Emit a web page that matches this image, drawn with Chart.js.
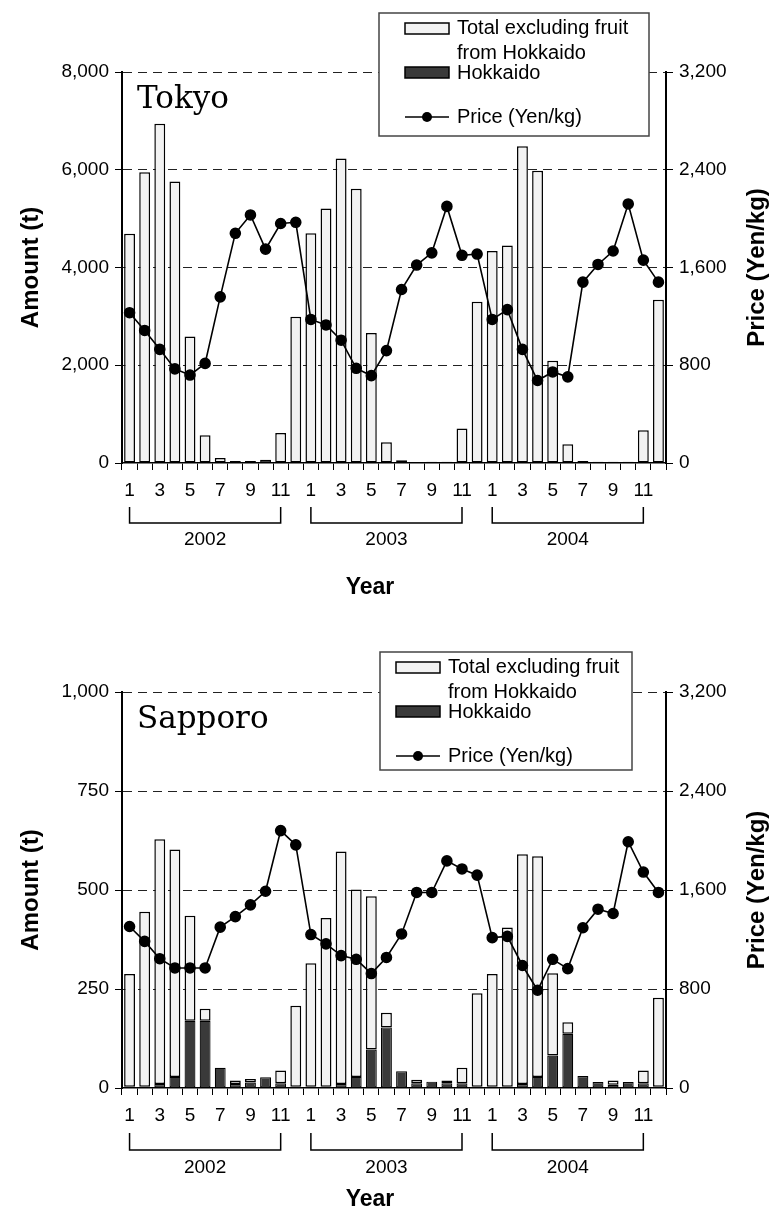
<!DOCTYPE html>
<html>
<head>
<meta charset="utf-8">
<script src="https://cdn.jsdelivr.net/npm/chart.js@4"></script>
<style>
  html, body { margin: 0; padding: 0; background: #fff; }
  canvas { display: block; }
</style>
</head>
<body>
<canvas id="tokyoChart" width="780" height="610"></canvas>
<canvas id="sapporoChart" width="780" height="610"></canvas>
<script>
// month labels, Jan 2002 .. Dec 2004
const MONTHS = [
  '1','2','3','4','5','6','7','8','9','10','11','12',
  '1','2','3','4','5','6','7','8','9','10','11','12',
  '1','2','3','4','5','6','7','8','9','10','11','12'
];
const YEARS = ['2002', '2003', '2004'];

// Tokyo (t, Yen/kg)
const tokyoOther = [
  4690, 5950, 6940, 5760, 2590, 570, 100, 40, 40, 0, 615, 2990,
  4700, 5205, 6230, 5610, 2660, 425, 55, 5, 27, 27, 705, 3300,
  4340, 4450, 6480, 5980, 2090, 385, 40, 27, 27, 27, 670, 3340
];
const tokyoHokkaido = [
  0, 0, 0, 0, 0, 0, 0, 0, 0, 65, 0, 0,
  0, 0, 0, 0, 0, 0, 0, 0, 0, 0, 0, 0,
  0, 0, 0, 0, 0, 0, 0, 0, 0, 0, 0, 0
];
const tokyoPrice = [
  1230, 1085, 930, 770, 720, 815, 1360, 1880, 2030, 1750, 1960, 1970,
  1175, 1130, 1005, 775, 715, 920, 1420, 1620, 1720, 2100, 1700, 1710,
  1175, 1255, 930, 675, 745, 705, 1480, 1625, 1735, 2120, 1660, 1480
];

// Sapporo (t, Yen/kg)
const sapporoOther = [
  285, 442, 618, 574, 265, 30, 0, 9, 9, 0, 32, 205,
  312, 426, 587, 473, 387, 37, 0, 9, 0, 7, 39, 236,
  285, 402, 580, 557, 208, 29, 0, 0, 11, 0, 32, 225
];
const sapporoHokkaido = [
  3, 3, 10, 28, 170, 170, 51, 10, 14, 27, 12, 3,
  3, 3, 10, 28, 97, 153, 42, 12, 16, 12, 12, 3,
  3, 3, 10, 28, 82, 137, 30, 15, 8, 15, 12, 3
];
const sapporoPrice = [
  1305, 1185, 1045, 970, 970, 970, 1300, 1385, 1480, 1590, 2080, 1965,
  1240, 1165, 1070, 1040, 925, 1055, 1245, 1580, 1580, 1835, 1770, 1720,
  1215, 1225, 990, 790, 1040, 965, 1295, 1445, 1410, 1990, 1745, 1580
];

const SANS = "'Liberation Sans', Arial, sans-serif";
Chart.defaults.font.family = SANS;
Chart.defaults.color = '#000';

// city name, legend box, year brackets and the right/bottom titles
function figurePlugin(cfg) {
  return {
    id: 'figure' + cfg.name,
    afterDraw(chart) {
      const { ctx, chartArea, scales } = chart;
      const xs = scales.x;
      ctx.save();
      ctx.fillStyle = '#000';
      ctx.strokeStyle = '#000';

      // city name
      ctx.font = '31px "DejaVu Serif", serif';
      ctx.textAlign = 'left';
      ctx.textBaseline = 'alphabetic';
      ctx.fillText(cfg.name, chartArea.left + 15, chartArea.top + 36);

      // legend
      const lg = cfg.legend;
      ctx.fillStyle = '#fff';
      ctx.fillRect(lg.x, lg.y, lg.w, lg.h);
      ctx.lineWidth = 1.5;
      ctx.strokeStyle = '#444';
      ctx.strokeRect(lg.x, lg.y, lg.w, lg.h);

      const sx = lg.x + lg.pad, sw = 44, tx = sx + sw + 8;
      const ds = chart.data.datasets;
      ctx.strokeStyle = '#000';
      ctx.fillStyle = ds[2].backgroundColor;
      ctx.fillRect(sx, lg.y + 10, sw, 11);
      ctx.strokeRect(sx, lg.y + 10, sw, 11);
      ctx.fillStyle = ds[1].backgroundColor;
      ctx.fillRect(sx, lg.y + 54, sw, 11);
      ctx.strokeRect(sx, lg.y + 54, sw, 11);

      ctx.beginPath();
      ctx.moveTo(sx, lg.y + 104);
      ctx.lineTo(sx + sw, lg.y + 104);
      ctx.stroke();
      ctx.fillStyle = '#000';
      ctx.beginPath();
      ctx.arc(sx + sw / 2, lg.y + 104, 5, 0, Math.PI * 2);
      ctx.fill();

      ctx.font = '20px ' + SANS;
      ctx.textBaseline = 'middle';
      const l1 = ds[2].label.split('\n');
      ctx.fillText(l1[0], tx, lg.y + 15);
      ctx.fillText(l1[1], tx, lg.y + 40);
      ctx.fillText(ds[1].label, tx, lg.y + 60);
      ctx.fillText(ds[0].label, tx, lg.y + 104);

      // year brackets under the month labels
      const b = chartArea.bottom;
      ctx.lineWidth = 1.5;
      ctx.textAlign = 'center';
      ctx.font = '19px ' + SANS;
      YEARS.forEach((yr, k) => {
        const x1 = xs.getPixelForValue(k * 12);
        const x2 = xs.getPixelForValue(k * 12 + 10);
        ctx.beginPath();
        ctx.moveTo(x1, b + cfg.brTop);
        ctx.lineTo(x1, b + cfg.brBot);
        ctx.lineTo(x2, b + cfg.brBot);
        ctx.lineTo(x2, b + cfg.brTop);
        ctx.stroke();
        ctx.fillText(yr, (x1 + x2) / 2, b + cfg.yearY);
      });

      // x title
      ctx.font = 'bold 23px ' + SANS;
      ctx.fillText('Year', 370, chart.height - cfg.titleBottom);

      // right axis title, reads bottom to top
      ctx.translate(757, (chartArea.top + chartArea.bottom) / 2);
      ctx.rotate(-Math.PI / 2);
      ctx.font = 'bold 24px ' + SANS;
      ctx.fillText('Price (Yen/kg)', 0, 0);
      ctx.restore();
    }
  };
}

function buildChart(id, cfg) {
  const ctx = document.getElementById(id);
  new Chart(ctx, {
    type: 'bar',
    data: {
      labels: MONTHS,
      datasets: [
        {
          type: 'line',
          label: 'Price (Yen/kg)',
          data: cfg.price,
          yAxisID: 'y2',
          order: 0,
          borderColor: '#000',
          borderWidth: 1.6,
          pointRadius: 5,
          pointBackgroundColor: '#000',
          pointBorderColor: '#000',
          tension: 0,
        },
        {
          label: 'Hokkaido',
          data: cfg.hokkaido,
          yAxisID: 'y',
          stack: 'amt',
          order: 1,
          backgroundColor: '#3a3a3a',
          borderColor: '#000',
          borderWidth: 1.2,
          borderSkipped: false,
          barPercentage: 0.72,
          categoryPercentage: 1,
        },
        {
          label: 'Total excluding fruit\nfrom Hokkaido',
          data: cfg.other,
          yAxisID: 'y',
          stack: 'amt',
          order: 1,
          backgroundColor: '#f2f2f2',
          borderColor: '#000',
          borderWidth: 1.5,
          borderSkipped: false,
          barPercentage: 0.72,
          categoryPercentage: 1,
        }
      ]
    },
    plugins: [figurePlugin(cfg)],
    options: {
      responsive: false,
      animation: false,
      layout: { padding: { top: cfg.top, left: 0, right: 0, bottom: 0 } },
      plugins: {
        legend: { display: false },
        tooltip: { enabled: false }
      },
      scales: {
        x: {
          stacked: true,
          grid: { drawOnChartArea: false, offset: true, tickLength: 7, tickColor: '#000', tickWidth: 1 },
          border: { color: '#000', width: 1.5 },
          ticks: {
            autoSkip: false, maxRotation: 0, minRotation: 0, padding: 9,
            font: { size: 19 }, color: '#000',
            callback: (v, i) => (i % 2 === 0 ? MONTHS[i] : '')
          },
          afterFit: s => { s.height = cfg.xHeight; }
        },
        y: {
          stacked: true,
          min: 0,
          max: cfg.amountMax,
          ticks: { stepSize: cfg.amountStep, padding: 6, font: { size: 19 }, color: '#000' },
          grid: {
            color: c => (c.tick && c.tick.value === 0 ? 'rgba(0,0,0,0)' : '#222'),
            lineWidth: 1,
            tickColor: '#000',
            tickLength: 7,
            tickBorderDash: [],
          },
          border: { color: '#000', width: 2, dash: [9, 6] },
          title: {
            display: true, text: 'Amount (t)', color: '#000',
            font: { size: 24, weight: 'bold' }, padding: { top: 17 }
          },
          afterFit: s => { s.width = 122; }
        },
        y2: {
          position: 'right',
          min: 0,
          max: 3200,
          ticks: { stepSize: 800, padding: 6, font: { size: 19 }, color: '#000' },
          grid: { drawOnChartArea: false, tickColor: '#000', tickLength: 7 },
          border: { color: '#000', width: 2 },
          afterFit: s => { s.width = 114; }
        }
      }
    }
  });
}

buildChart('tokyoChart', {
  name: 'Tokyo',
  other: tokyoOther,
  hokkaido: tokyoHokkaido,
  price: tokyoPrice,
  amountMax: 8000,
  amountStep: 2000,
  top: 72,
  xHeight: 147,
  brTop: 44, brBot: 60, yearY: 77, titleBottom: 22,
  legend: { x: 379, y: 13, w: 270, h: 123, pad: 26 }
});

buildChart('sapporoChart', {
  name: 'Sapporo',
  other: sapporoOther,
  hokkaido: sapporoHokkaido,
  price: sapporoPrice,
  amountMax: 1000,
  amountStep: 250,
  top: 82,
  xHeight: 132,
  brTop: 45, brBot: 62, yearY: 80, titleBottom: 20,
  legend: { x: 380, y: 42, w: 252, h: 118, pad: 16 }
});
</script>
</body>
</html>
